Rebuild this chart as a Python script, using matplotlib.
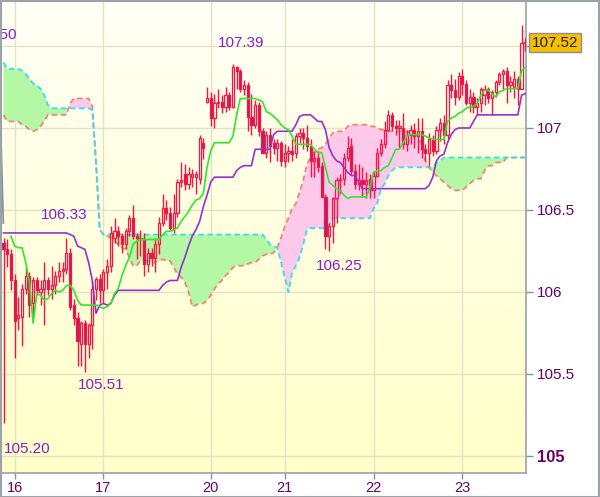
import numpy as np
import matplotlib
matplotlib.use("Agg")
import matplotlib.pyplot as plt
from matplotlib.patches import Rectangle

plt.rcParams['font.family'] = ['Liberation Sans', 'DejaVu Sans']

# ---------------- data (hourly candles, index 0..141) ----------------
opens = [106.30, 106.26, 106.23, 106.07, 105.84, 105.85, 106.02, 106.10, 105.93, 106.07,
         106.00, 106.02, 106.07, 106.02, 106.04, 106.10, 106.13, 106.14, 106.24, 105.92,
         105.84, 105.68, 105.81, 105.68, 105.80, 106.02, 106.08, 106.01, 106.12, 106.16,
         106.33, 106.37, 106.34, 106.29, 106.37, 106.45, 106.34, 106.33, 106.32, 106.17,
         106.24, 106.21, 106.29, 106.42, 106.51, 106.48, 106.39, 106.48, 106.67, 106.72,
         106.66, 106.70, 106.70, 106.69, 106.91, 107.16, 107.18, 107.06, 107.15, 107.16,
         107.13, 107.20, 107.13, 107.37, 107.35, 107.24, 107.26, 107.07, 107.02, 107.14,
         106.98, 106.85, 106.96, 106.91, 106.88, 106.91, 106.80, 106.85, 106.86, 106.85,
         106.95, 106.97, 106.94, 106.89, 106.80, 106.82, 106.77, 106.58, 106.34, 106.40,
         106.57, 106.68, 106.69, 106.82, 106.89, 106.74, 106.66, 106.68, 106.66, 106.69,
         106.62, 106.71, 106.85, 106.90, 106.99, 107.08, 107.01, 107.00, 107.00, 106.90,
         106.96, 106.99, 106.95, 106.98, 106.87, 106.85, 106.93, 106.86, 106.99, 107.03,
         106.96, 107.26, 107.23, 107.19, 107.32, 107.27, 107.15, 107.19, 107.13, 107.15,
         107.20, 107.24, 107.18, 107.22, 107.28, 107.33, 107.35, 107.26, 107.25, 107.30,
         107.24, 107.52]
highs = [106.33, 106.32, 106.26, 106.11, 105.97, 106.05, 106.15, 106.12, 106.09, 106.09,
         106.07, 106.18, 106.09, 106.16, 106.13, 106.18, 106.18, 106.33, 106.27, 105.96,
         105.88, 105.82, 105.83, 105.81, 106.07, 106.09, 106.11, 106.14, 106.20, 106.40,
         106.45, 106.40, 106.36, 106.39, 106.47, 106.53, 106.36, 106.38, 106.36, 106.27,
         106.27, 106.33, 106.46, 106.60, 106.56, 106.52, 106.60, 106.69, 106.79, 106.78,
         106.76, 106.75, 106.74, 106.96, 106.94, 107.25, 107.22, 107.21, 107.24, 107.20,
         107.25, 107.22, 107.39, 107.38, 107.36, 107.29, 107.28, 107.21, 107.17, 107.16,
         107.00, 106.98, 107.00, 106.93, 106.93, 106.92, 106.90, 106.89, 106.93, 106.97,
         107.00, 107.00, 107.02, 106.93, 106.86, 106.86, 106.79, 106.60, 106.42, 106.58,
         106.70, 106.72, 106.85, 106.95, 106.94, 106.78, 106.78, 106.76, 106.73, 106.72,
         106.74, 106.88, 106.93, 107.04, 107.11, 107.10, 107.05, 107.05, 107.09, 106.99,
         107.02, 107.03, 107.06, 107.06, 106.90, 106.97, 106.96, 107.01, 107.06, 107.08,
         107.29, 107.33, 107.30, 107.34, 107.36, 107.29, 107.24, 107.22, 107.18, 107.25,
         107.26, 107.25, 107.23, 107.29, 107.34, 107.36, 107.37, 107.32, 107.35, 107.32,
         107.63, 107.55]
lows = [105.20, 106.15, 106.01, 105.60, 105.77, 105.67, 105.99, 105.85, 105.85, 105.98,
        105.92, 105.80, 105.98, 105.96, 105.99, 106.06, 106.06, 106.11, 105.89, 105.80,
        105.55, 105.55, 105.51, 105.60, 105.65, 105.95, 105.93, 105.93, 106.02, 106.12,
        106.30, 106.28, 106.24, 106.26, 106.34, 106.32, 106.20, 106.22, 106.10, 106.12,
        106.16, 106.12, 106.23, 106.40, 106.44, 106.37, 106.36, 106.46, 106.64, 106.62,
        106.63, 106.64, 106.60, 106.66, 106.81, 107.15, 107.01, 107.00, 107.12, 107.09,
        107.10, 107.11, 107.12, 107.24, 107.22, 107.20, 106.98, 106.96, 107.00, 106.95,
        106.85, 106.82, 106.79, 106.84, 106.80, 106.77, 106.76, 106.79, 106.80, 106.82,
        106.91, 106.87, 106.86, 106.70, 106.70, 106.73, 106.58, 106.26, 106.25, 106.30,
        106.42, 106.60, 106.65, 106.80, 106.72, 106.63, 106.62, 106.58, 106.57, 106.57,
        106.57, 106.70, 106.83, 106.88, 106.98, 106.98, 106.96, 106.88, 106.87, 106.86,
        106.90, 106.88, 106.85, 106.82, 106.80, 106.77, 106.83, 106.84, 106.92, 106.90,
        106.93, 107.18, 107.14, 107.17, 107.20, 107.14, 107.10, 107.09, 107.08, 107.10,
        107.14, 107.15, 107.08, 107.19, 107.26, 107.24, 107.15, 107.22, 107.18, 107.14,
        107.24, 107.47]
closes = [106.26, 106.23, 106.07, 105.82, 105.86, 106.02, 106.10, 105.92, 106.07, 106.01,
          106.02, 106.07, 106.02, 106.04, 106.10, 106.13, 106.14, 106.24, 105.91, 105.84,
          105.70, 105.81, 105.68, 105.80, 106.02, 106.08, 106.01, 106.12, 106.16, 106.36,
          106.37, 106.34, 106.29, 106.37, 106.45, 106.34, 106.33, 106.32, 106.17, 106.24,
          106.21, 106.29, 106.42, 106.51, 106.48, 106.39, 106.48, 106.67, 106.68, 106.66,
          106.72, 106.72, 106.72, 106.94, 106.88, 107.18, 107.06, 107.15, 107.16, 107.13,
          107.20, 107.13, 107.37, 107.35, 107.24, 107.26, 107.07, 107.02, 107.14, 106.98,
          106.85, 106.96, 106.89, 106.88, 106.91, 106.80, 106.85, 106.86, 106.84, 106.95,
          106.97, 106.94, 106.89, 106.80, 106.82, 106.76, 106.58, 106.34, 106.40, 106.57,
          106.68, 106.69, 106.82, 106.88, 106.74, 106.66, 106.68, 106.66, 106.68, 106.62,
          106.71, 106.85, 106.90, 106.99, 107.08, 107.01, 107.00, 107.01, 106.90, 106.96,
          106.99, 106.95, 106.98, 106.87, 106.85, 106.93, 106.86, 106.99, 107.03, 106.96,
          107.26, 107.23, 107.19, 107.32, 107.27, 107.15, 107.19, 107.13, 107.15, 107.24,
          107.24, 107.18, 107.22, 107.28, 107.33, 107.35, 107.26, 107.28, 107.30, 107.24,
          107.52, 107.52]

tenkan = ([np.nan, np.nan, 106.34, 106.28, 106.27, 106.27, 106.18, 106.06, 105.81, 105.99,
           105.98, 105.95, 105.96, 105.99, 106.01, 106.00, 106.01, 106.04, 106.04, 106.01,
           105.95, 105.92, 105.92, 105.92, 105.92, 105.92, 105.91, 105.90, 105.91, 105.93,
           105.99, 106.02, 106.10, 106.16, 106.21, 106.29, 106.31]
          + [106.32] * 6
          + [106.35, 106.37, 106.37, 106.38, 106.39, 106.43, 106.46, 106.49, 106.53, 106.56,
             106.57, 106.60, 106.76, 106.86, 106.91]
          + [106.91] * 4
          + [106.95, 107.08]
          + [107.18] * 4
          + [107.18, 107.17, 107.16, 107.10, 107.09, 107.07, 107.05, 107.02, 107.00, 106.99,
             106.95, 106.90, 106.90]
          + [106.90] * 3
          + [106.87, 106.85, 106.85, 106.76, 106.67, 106.65, 106.63, 106.62, 106.59, 106.57]
          + [106.58] * 5
          + [106.63, 106.73, 106.74, 106.74, 106.76, 106.77, 106.82, 106.87, 106.87, 106.91,
             106.95, 106.96, 106.96, 106.96, 106.96, 106.95, 106.94, 106.93, 106.93, 106.93,
             106.93, 107.04, 107.06, 107.07, 107.09, 107.10, 107.12, 107.13, 107.13, 107.15,
             107.20, 107.23, 107.23, 107.21, 107.19, 107.22, 107.23, 107.24]
          + [107.24] * 3
          + [107.35, 107.37])

kijun = ([106.36] * 18
         + [106.35, 106.34, 106.28, 106.27, 106.26, 106.18, 106.07, 105.87, 105.92, 105.93,
            105.92, 105.93, 105.98, 106.01]
         + [106.01] * 11
         + [106.04, 106.06, 106.07, 106.07, 106.07, 106.15, 106.21, 106.28, 106.34, 106.38,
            106.43, 106.52, 106.59, 106.67, 106.70]
         + [106.70] * 5
         + [106.74, 106.76, 106.77, 106.77, 106.77, 106.87, 106.87, 106.87, 106.87, 106.87,
            106.96]
         + [106.98] * 5
         + [107.02, 107.07]
         + [107.08] * 3
         + [107.06, 107.04, 107.04, 106.99, 106.88, 106.83, 106.80, 106.79, 106.76, 106.73,
            106.71, 106.71, 106.67, 106.63]
         + [106.63] * 17
         + [106.65, 106.70, 106.80, 106.83, 106.84, 106.91, 106.96, 106.99, 107.00]
         + [107.00] * 3
         + [107.04, 107.08]
         + [107.08] * 11
         + [107.20, 107.21])

span_a = ([107.40] + [107.36] * 4
          + [107.35, 107.33, 107.30, 107.27, 107.26, 107.24, 107.20, 107.14]
          + [107.12] * 11
          + [107.11, 106.79, 106.38]
          + [106.35] * 44
          + [106.32, 106.29, 106.28, 106.27, 106.18, 106.09, 106.00, 106.12, 106.16, 106.21,
             106.29, 106.38]
          + [106.39] * 5
          + [106.41]
          + [106.45] * 11
          + [106.51, 106.54, 106.63, 106.66, 106.71, 106.74]
          + [106.76] * 11
          + [106.79, 106.80, 106.82]
          + [106.82] * 22)

span_b = ([107.08, 107.04, 107.04, 107.04, 107.04, 107.02, 107.01, 106.99, 106.98, 106.99,
           107.01, 107.04, 107.08]
          + [107.08] * 5
          + [107.15, 107.18]
          + [107.18] * 4
          + [107.13, 106.79, 106.38, 106.35, 106.34, 106.33, 106.31, 106.29, 106.27, 106.26,
             106.21, 106.16, 106.16, 106.19, 106.19, 106.19, 106.18, 106.18, 106.19, 106.20,
             106.19, 106.19, 106.15, 106.11, 106.09, 106.06, 106.00, 105.91, 105.92, 105.93,
             105.93, 105.95, 105.98, 106.02, 106.05, 106.07, 106.10, 106.12, 106.15, 106.16,
             106.16, 106.16, 106.17, 106.18, 106.18, 106.20, 106.22, 106.23, 106.23, 106.24,
             106.27, 106.33, 106.40, 106.45, 106.51, 106.54, 106.61, 106.68, 106.78, 106.82,
             106.85, 106.87, 106.88, 106.90, 106.94, 106.97, 106.98, 106.98, 106.98, 107.01,
             107.02]
          + [107.02] * 4
          + [107.01, 107.01, 107.00, 106.99, 106.99]
          + [106.98] * 5
          + [106.98, 106.97, 106.96, 106.95, 106.90, 106.80, 106.76, 106.73, 106.71, 106.69,
             106.67, 106.65, 106.63, 106.62, 106.62, 106.62, 106.64, 106.66, 106.68, 106.69,
             106.69, 106.74, 106.77, 106.77, 106.79, 106.79, 106.79, 106.82]
          + [106.82] * 5)

edge_line_x = [-0.62, -0.05]
edge_line_y = [106.88, 106.42]

day_ticks = [3, 27, 56, 76, 100, 124]
day_labels = ['16', '17', '20', '21', '22', '23']
price_ticks = [105.0, 105.5, 106.0, 106.5, 107.0, 107.5]
price_labels = ['105', '105.5', '106', '106.5', '107', '']   # 107.5 hidden behind price box

# extreme labels: (text, candle index, price, horizontal alignment)
extreme_labels = [('107.39', 64.2, 107.52, 'center'), ('106.25', 90.7, 106.16, 'center'),
                  ('105.51', 26.4, 105.43, 'center'), ('106.33', 16.4, 106.47, 'center'),
                  ('105.20', 6.3, 105.04, 'center'), ('107.50', 3.7, 107.567, 'right')]

# ---------------- figure ----------------
o = np.array(opens); h = np.array(highs); l = np.array(lows); c = np.array(closes)
A = np.array(span_a); B = np.array(span_b)
TK = np.array(tenkan); KJ = np.array(kijun)
n = len(o)
assert len(h) == n and len(l) == n and len(c) == n
assert len(A) == n and len(B) == n and len(TK) == n and len(KJ) == n
idx = np.arange(n)

W, H = 600, 497
fig = plt.figure(figsize=(W / 100, H / 100), dpi=100)
fig.patch.set_facecolor('white')
ax = fig.add_axes([1 / W, 24 / H, 525 / W, 473 / H])

xmin, xmax = -0.68, 141.2
ymin, ymax = 104.896, 107.7805
ax.set_xlim(xmin, xmax)
ax.set_ylim(ymin, ymax)

# background gradient
grad = np.linspace(0, 1, 256).reshape(-1, 1)
top_col = np.array([255, 255, 246]) / 255
bot_col = np.array([255, 255, 200]) / 255
img = top_col[None, None, :] * (1 - grad[:, :, None]) + bot_col[None, None, :] * grad[:, :, None]
ax.imshow(img, extent=[xmin, xmax, ymin, ymax], aspect='auto', origin='upper', zorder=0)

# grid
grid_col = '#e4e2c6'
for t in day_ticks:
    ax.axvline(t, color=grid_col, lw=1.0, zorder=0.5)
for p in price_ticks:
    ax.axhline(p, color=grid_col, lw=1.0, zorder=0.5)

# cloud
ax.fill_between(idx, A, B, where=A >= B, interpolate=True, color='#b4f7a4', lw=0, zorder=1)
ax.fill_between(idx, A, B, where=A < B, interpolate=True, color='#fdc9ea', lw=0, zorder=1)
ax.plot(idx, B, color='#f08478', lw=1.3, ls=(0, (3, 2)), zorder=2)
ax.plot(idx, A, color='#30e0ee', lw=1.3, ls=(0, (3, 2)), zorder=2)

ax.plot(edge_line_x, edge_line_y, color='#8a8a96', lw=1.2, zorder=2)

# candles
red = '#ff1040'
top = np.maximum(o, c)
bot = np.minimum(o, c)
ax.vlines(idx, top, h, color=red, lw=1.0, zorder=3)
ax.vlines(idx, l, bot, color=red, lw=1.0, zorder=3)
body = np.maximum(top - bot, 0.004)
up = c >= o
dn = ~up
ax.bar(idx[up], body[up], bottom=bot[up], width=0.58, facecolor='none',
       edgecolor=red, lw=0.9, zorder=3)
ax.bar(idx[dn], body[dn], bottom=bot[dn], width=0.58, facecolor='#a02a7a',
       edgecolor=red, lw=0.9, zorder=3)

# tenkan / kijun
ax.plot(idx, KJ, color='#9a2fd0', lw=1.2, zorder=4)
ax.plot(idx, TK, color='#2ee82e', lw=1.2, zorder=4)

# extreme labels
for txt, xi, yv, ha in extreme_labels:
    t = ax.text(xi, yv, txt, color='#8a1ccc', fontsize=11, ha=ha, va='center', zorder=6)
    t.set_clip_on(True)

# axes styling
for s in ['top', 'left']:
    ax.spines[s].set_visible(False)
for s in ['right', 'bottom']:
    ax.spines[s].set_color('#9aa2aa')
    ax.spines[s].set_linewidth(1.2)

ax.yaxis.tick_right()
ax.set_yticks(price_ticks)
ax.set_yticklabels(price_labels)
ax.tick_params(axis='y', colors='#8a9098', length=5, width=1, labelcolor='#660066',
               labelsize=11, pad=3)
for lab in ax.get_yticklabels():
    if lab.get_text() == '105':
        lab.set_fontweight('bold')
        lab.set_fontsize(12)

ax.set_xticks(day_ticks)
ax.set_xticklabels(day_labels)
ax.tick_params(axis='x', colors='#8a9098', length=4, width=1, labelcolor='#660066',
               labelsize=10.5, pad=2)

# current price box
last = closes[-1]
ax.annotate(f'{last:.2f}', xy=(1.0, last), xycoords=('axes fraction', 'data'),
            xytext=(4, 0), textcoords='offset points', va='center', ha='left',
            fontsize=11, color='#222222', zorder=10, annotation_clip=False,
            bbox=dict(boxstyle='square,pad=0.18', fc='#f6c000', ec='#8e8e8e', lw=1))

# outer frame
fig.patches.append(Rectangle((0.5 / W, 0.5 / H), 1 - 1.5 / W, 1 - 1.5 / H, transform=fig.transFigure,
                             fill=False, edgecolor='#9aa2aa', lw=1.5))

fig.savefig('out.png', dpi=100)
